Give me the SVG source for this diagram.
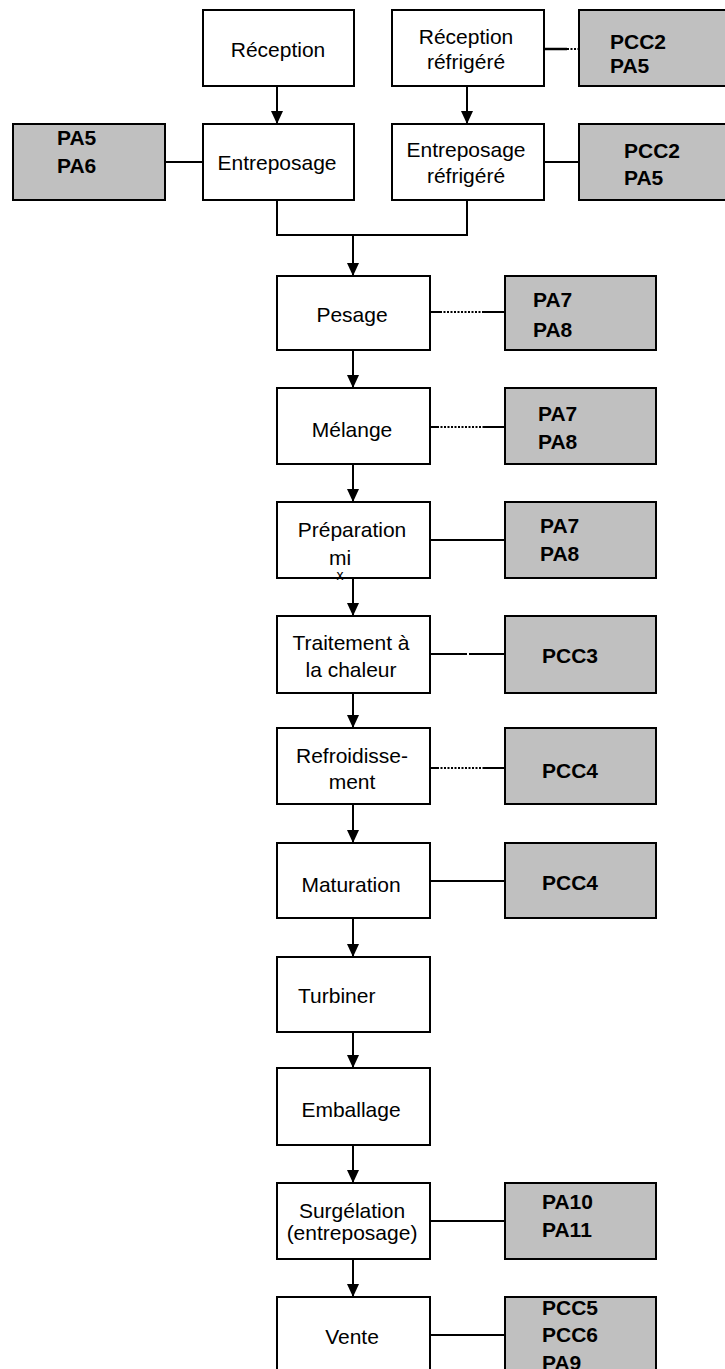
<svg xmlns="http://www.w3.org/2000/svg" width="725" height="1369" viewBox="0 0 725 1369">
<style>
.box{fill:#fff;stroke:#000;stroke-width:2}
.gray{fill:#c0c0c0;stroke:#000;stroke-width:2}
.lbl{font-family:"Liberation Sans",Arial,sans-serif;font-size:21px;fill:#000;text-anchor:middle}
.code{font-family:"Liberation Sans",Arial,sans-serif;font-size:21px;font-weight:bold;fill:#000}
.ln{stroke:#000;stroke-width:2;fill:none}
.dot{stroke:#000;stroke-width:2;fill:none;stroke-dasharray:2 1.5}
</style>
<defs>
<marker id="ah" viewBox="0 0 13 12" refX="13" refY="6" markerWidth="13" markerHeight="12" markerUnits="userSpaceOnUse" orient="auto">
<path d="M0,0 L13,6 L0,12 z" fill="#000"/>
</marker>
</defs>
<rect width="725" height="1369" fill="#fff"/>

<g id="connectors">
<line class="ln" x1="277" y1="86" x2="277" y2="124" marker-end="url(#ah)"/>
<line class="ln" x1="467" y1="86" x2="467" y2="124" marker-end="url(#ah)"/>
<polyline class="ln" points="277,200 277,235 467,235 467,200"/>
<line class="ln" x1="353" y1="235" x2="353" y2="276" marker-end="url(#ah)"/>
<line class="ln" x1="353" y1="350" x2="353" y2="388" marker-end="url(#ah)"/>
<line class="ln" x1="353" y1="464" x2="353" y2="502" marker-end="url(#ah)"/>
<line class="ln" x1="353" y1="578" x2="353" y2="616" marker-end="url(#ah)"/>
<line class="ln" x1="353" y1="693" x2="353" y2="728" marker-end="url(#ah)"/>
<line class="ln" x1="353" y1="804" x2="353" y2="843" marker-end="url(#ah)"/>
<line class="ln" x1="353" y1="918" x2="353" y2="957" marker-end="url(#ah)"/>
<line class="ln" x1="353" y1="1032" x2="353" y2="1068" marker-end="url(#ah)"/>
<line class="ln" x1="353" y1="1145" x2="353" y2="1183" marker-end="url(#ah)"/>
<line class="ln" x1="353" y1="1259" x2="353" y2="1297" marker-end="url(#ah)"/>

<line class="ln" x1="544" y1="49" x2="567" y2="49" style="stroke-width:2.5"/>
<line class="dot" x1="567" y1="49" x2="579" y2="49"/>
<line class="ln" x1="165" y1="162" x2="203" y2="162"/>
<line class="ln" x1="544" y1="162" x2="579" y2="162"/>

<line class="ln" x1="430" y1="312" x2="440" y2="312"/>
<line class="dot" x1="440" y1="312" x2="483" y2="312"/>
<line class="ln" x1="483" y1="312" x2="505" y2="312"/>

<line class="ln" x1="430" y1="427" x2="437" y2="427"/>
<line class="dot" x1="437" y1="427" x2="483" y2="427"/>
<line class="ln" x1="483" y1="427" x2="505" y2="427"/>

<line class="ln" x1="430" y1="540" x2="505" y2="540"/>

<line class="ln" x1="430" y1="654" x2="467" y2="654"/>
<line class="ln" x1="469" y1="654" x2="505" y2="654"/>

<line class="ln" x1="430" y1="768" x2="437" y2="768"/>
<line class="dot" x1="437" y1="768" x2="483" y2="768"/>
<line class="ln" x1="483" y1="768" x2="505" y2="768"/>

<line class="ln" x1="430" y1="881" x2="505" y2="881"/>
<line class="ln" x1="430" y1="1221" x2="505" y2="1221"/>
<line class="ln" x1="430" y1="1335" x2="505" y2="1335"/>
</g>

<g id="reception">
<rect class="box" x="203" y="10" width="151" height="76"/>
<text class="lbl" x="278" y="57">Réception</text>
</g>
<g id="reception-refrigere">
<rect class="box" x="392" y="10" width="152" height="76"/>
<text class="lbl" x="466" y="44">Réception</text>
<text class="lbl" x="466" y="69">réfrigéré</text>
</g>
<g id="ctrl-reception-refrigere">
<rect class="gray" x="579" y="10" width="160" height="76"/>
<text class="code" x="610" y="49">PCC2</text>
<text class="code" x="610" y="73">PA5</text>
</g>

<g id="ctrl-entreposage">
<rect class="gray" x="13" y="124" width="152" height="76"/>
<text class="code" x="57" y="145">PA5</text>
<text class="code" x="57" y="173">PA6</text>
</g>
<g id="entreposage">
<rect class="box" x="203" y="124" width="151" height="76"/>
<text class="lbl" x="277" y="170">Entreposage</text>
</g>
<g id="entreposage-refrigere">
<rect class="box" x="392" y="124" width="152" height="76"/>
<text class="lbl" x="466" y="157">Entreposage</text>
<text class="lbl" x="466" y="183">réfrigéré</text>
</g>
<g id="ctrl-entreposage-refrigere">
<rect class="gray" x="579" y="124" width="160" height="76"/>
<text class="code" x="624" y="158">PCC2</text>
<text class="code" x="624" y="185">PA5</text>
</g>

<g id="pesage">
<rect class="box" x="277" y="276" width="153" height="74"/>
<text class="lbl" x="352" y="322">Pesage</text>
</g>
<g id="ctrl-pesage">
<rect class="gray" x="505" y="276" width="151" height="74"/>
<text class="code" x="533" y="307">PA7</text>
<text class="code" x="533" y="337">PA8</text>
</g>

<g id="melange">
<rect class="box" x="277" y="388" width="153" height="76"/>
<text class="lbl" x="352" y="437">Mélange</text>
</g>
<g id="ctrl-melange">
<rect class="gray" x="505" y="388" width="151" height="76"/>
<text class="code" x="538" y="421">PA7</text>
<text class="code" x="538" y="449">PA8</text>
</g>

<g id="preparation">
<rect class="box" x="277" y="502" width="153" height="76"/>
<text class="lbl" x="352" y="537">Préparation</text>
<text class="lbl" x="340" y="565">mi</text>
<text class="lbl" x="340" y="580" style="font-size:14px">x</text>
</g>
<g id="ctrl-preparation">
<rect class="gray" x="505" y="502" width="151" height="76"/>
<text class="code" x="540" y="533">PA7</text>
<text class="code" x="540" y="561">PA8</text>
</g>

<g id="traitement">
<rect class="box" x="277" y="616" width="153" height="77"/>
<text class="lbl" x="351" y="650">Traitement à</text>
<text class="lbl" x="351" y="677">la chaleur</text>
</g>
<g id="ctrl-traitement">
<rect class="gray" x="505" y="616" width="151" height="77"/>
<text class="code" x="542" y="663">PCC3</text>
</g>

<g id="refroidissement">
<rect class="box" x="277" y="728" width="153" height="76"/>
<text class="lbl" x="352" y="763">Refroidisse-</text>
<text class="lbl" x="352" y="789">ment</text>
</g>
<g id="ctrl-refroidissement">
<rect class="gray" x="505" y="728" width="151" height="76"/>
<text class="code" x="542" y="778">PCC4</text>
</g>

<g id="maturation">
<rect class="box" x="277" y="843" width="153" height="75"/>
<text class="lbl" x="351" y="892">Maturation</text>
</g>
<g id="ctrl-maturation">
<rect class="gray" x="505" y="843" width="151" height="75"/>
<text class="code" x="542" y="890">PCC4</text>
</g>

<g id="turbiner">
<rect class="box" x="277" y="957" width="153" height="75"/>
<text class="lbl" x="298" y="1003" style="text-anchor:start">Turbiner</text>
</g>

<g id="emballage">
<rect class="box" x="277" y="1068" width="153" height="77"/>
<text class="lbl" x="351" y="1117">Emballage</text>
</g>

<g id="surgelation">
<rect class="box" x="277" y="1183" width="153" height="76"/>
<text class="lbl" x="352" y="1218">Surgélation</text>
<text class="lbl" x="352" y="1240">(entreposage)</text>
</g>
<g id="ctrl-surgelation">
<rect class="gray" x="505" y="1183" width="151" height="76"/>
<text class="code" x="542" y="1209">PA10</text>
<text class="code" x="542" y="1237">PA11</text>
</g>

<g id="vente">
<rect class="box" x="277" y="1297" width="153" height="90"/>
<text class="lbl" x="352" y="1344">Vente</text>
</g>
<g id="ctrl-vente">
<rect class="gray" x="505" y="1297" width="151" height="90"/>
<text class="code" x="542" y="1315">PCC5</text>
<text class="code" x="542" y="1342">PCC6</text>
<text class="code" x="542" y="1370">PA9</text>
</g>
</svg>
